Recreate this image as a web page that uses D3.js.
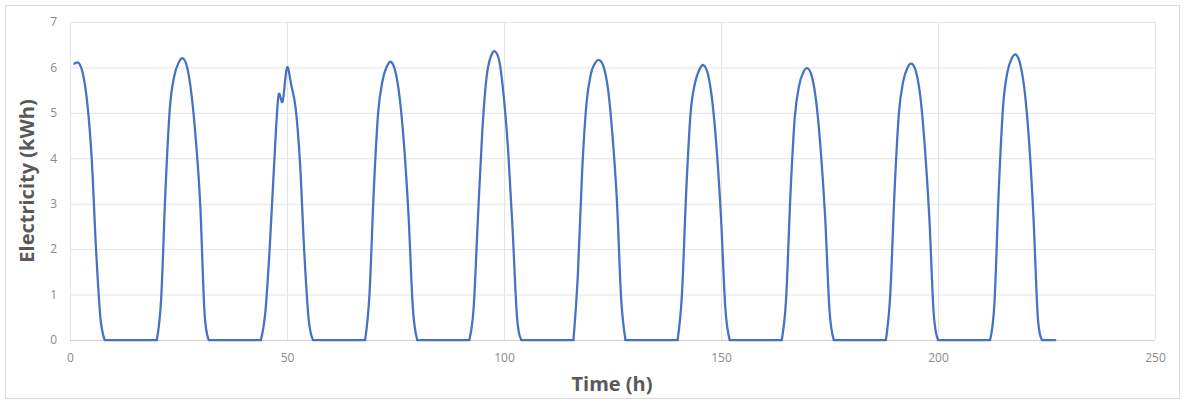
<!DOCTYPE html>
<html>
<head>
<meta charset="utf-8">
<script src="https://cdn.jsdelivr.net/npm/d3@7"></script>
<style>
  html, body { margin: 0; padding: 0; background: #ffffff; }
  svg { display: block; }
  .tick text { font-family: "Open Sans", "Noto Sans", sans-serif; font-size: 12px; fill: #8a8a8a; }
  .title { font-family: "Open Sans", "Noto Sans", sans-serif; font-weight: 700; font-size: 20px; fill: #595959; }
</style>
</head>
<body>
<script>
// Hourly electricity (kWh), hour 1 .. 227
const electricity = [
  // t = 1 .. 24
  6.08, 6.1, 5.85, 5.2, 4.0, 2.0, 0.5, 0, 0, 0, 0, 0, 0, 0, 0, 0, 0, 0, 0, 0, 0.9, 3.3, 5.1, 5.8,
  // t = 25 .. 48
  6.1, 6.2, 6.0, 5.4, 4.4, 3.0, 0.6, 0, 0, 0, 0, 0, 0, 0, 0, 0, 0, 0, 0, 0, 0.6, 2.0, 3.8, 5.35,
  // t = 49 .. 72
  5.25, 6.0, 5.6, 5.1, 3.9, 1.9, 0.45, 0, 0, 0, 0, 0, 0, 0, 0, 0, 0, 0, 0, 0, 1.0, 3.3, 5.0, 5.7,
  // t = 73 .. 96
  6.02, 6.12, 5.9, 5.3, 4.25, 2.75, 0.7, 0, 0, 0, 0, 0, 0, 0, 0, 0, 0, 0, 0, 0, 0.7, 2.7, 4.6, 5.8,
  // t = 97 .. 120
  6.25, 6.35, 6.1, 5.3, 4.1, 2.4, 0.5, 0, 0, 0, 0, 0, 0, 0, 0, 0, 0, 0, 0, 0, 1.4, 3.7, 5.2, 5.85,
  // t = 121 .. 144
  6.1, 6.16, 6.0, 5.5, 4.5, 3.1, 0.9, 0, 0, 0, 0, 0, 0, 0, 0, 0, 0, 0, 0, 0, 1.0, 3.3, 5.0, 5.65,
  // t = 145 .. 168
  5.95, 6.05, 5.85, 5.25, 4.2, 2.7, 0.7, 0, 0, 0, 0, 0, 0, 0, 0, 0, 0, 0, 0, 0, 0.9, 3.2, 4.9, 5.6,
  // t = 169 .. 192
  5.9, 5.98, 5.78, 5.2, 4.15, 2.7, 0.65, 0, 0, 0, 0, 0, 0, 0, 0, 0, 0, 0, 0, 0, 1.0, 3.3, 5.0, 5.7,
  // t = 193 .. 216
  6.0, 6.08, 5.88, 5.3, 4.2, 2.7, 0.6, 0, 0, 0, 0, 0, 0, 0, 0, 0, 0, 0, 0, 0, 0.8, 3.3, 5.15, 5.9,
  // t = 217 .. 227
  6.2, 6.28, 6.05, 5.45, 4.35, 2.7, 0.5, 0, 0, 0, 0
];
const firstHour = 1;
const xTicks = [0, 50, 100, 150, 200, 250];
const yTicks = [0, 1, 2, 3, 4, 5, 6, 7];
const xTitle = "Time (h)";
const yTitle = "Electricity (kWh)";

const W = 1184, H = 403;
const m = { left: 70, right: 29, top: 22, bottom: 63 };

const svg = d3.select("body").append("svg").attr("width", W).attr("height", H);

// chart border
svg.append("rect").attr("x", 5.5).attr("y", 5.5).attr("width", 1174).attr("height", 393)
  .attr("fill", "#fff").attr("stroke", "#d9d9d9").attr("stroke-width", 1);

const x = d3.scaleLinear().domain([0, 250]).range([m.left, W - m.right]);
const y = d3.scaleLinear().domain([0, 7]).range([H - m.bottom, m.top]);

// vertical gridlines + x labels
const gx = svg.append("g").attr("transform", `translate(0,${H - m.bottom})`)
  .call(d3.axisBottom(x).tickValues(xTicks).tickSize(-(H - m.bottom - m.top)).tickPadding(13).tickFormat(d3.format("d")));
gx.select(".domain").remove();
gx.selectAll(".tick line").attr("stroke", "#e4e4e4").attr("stroke-width", 1);

// horizontal gridlines + y labels
const gy = svg.append("g").attr("transform", `translate(${m.left},0)`)
  .call(d3.axisLeft(y).tickValues(yTicks).tickSize(-(W - m.right - m.left)).tickPadding(13).tickFormat(d3.format("d")));
gy.select(".domain").remove();
gy.selectAll(".tick line").attr("stroke", d => d === 0 ? "#d0d0d0" : "#e4e4e4").attr("stroke-width", 1);

// series: split into zero runs (straight) and production humps (smoothed)
const data = electricity.map((v, i) => ({ t: firstHour + i, v }));
const segments = [];
let i = 0;
while (i < data.length) {
  const isZero = data[i].v === 0;
  let j = i;
  while (j + 1 < data.length && (data[j + 1].v === 0) === isZero) j++;
  if (isZero) {
    segments.push({ smooth: false, pts: data.slice(i, j + 1) });
  } else {
    const a = Math.max(0, i - 1), b = Math.min(data.length - 1, j + 1);
    segments.push({ smooth: true, pts: data.slice(a, b + 1) });
  }
  i = j + 1;
}
const lineSmooth = d3.line().x(d => x(d.t)).y(d => y(d.v)).curve(d3.curveCatmullRom.alpha(0));
const lineStraight = d3.line().x(d => x(d.t)).y(d => y(d.v));
svg.append("g").selectAll("path").data(segments).join("path")
  .attr("d", s => (s.smooth ? lineSmooth : lineStraight)(s.pts))
  .attr("fill", "none").attr("stroke", "#4472C4").attr("stroke-width", 2.25)
  .attr("stroke-linejoin", "round").attr("stroke-linecap", "round");

// titles
svg.append("text").attr("class", "title").attr("x", 612).attr("y", 391)
  .attr("text-anchor", "middle").text(xTitle);
svg.append("text").attr("class", "title")
  .attr("transform", `translate(34,${(m.top + H - m.bottom) / 2}) rotate(-90)`)
  .attr("text-anchor", "middle").text(yTitle);
</script>
</body>
</html>
